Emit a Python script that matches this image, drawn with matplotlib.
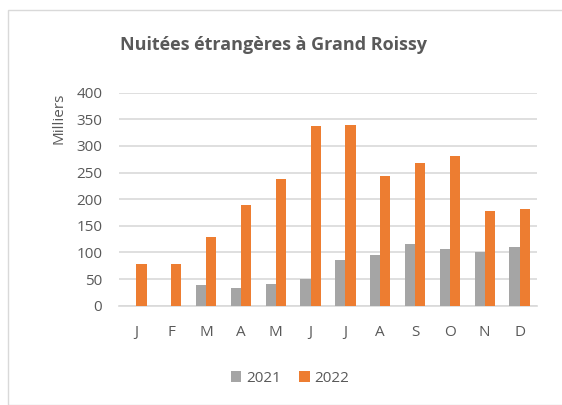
import numpy as np
import matplotlib
matplotlib.use("Agg")
import matplotlib.pyplot as plt
from matplotlib.patches import Rectangle

plt.rcParams['font.family'] = ['Open Sans', 'DejaVu Sans']

mois = ['J', 'F', 'M', 'A', 'M', 'J', 'J', 'A', 'S', 'O', 'N', 'D']
v2021 = [0, 0, 38, 34, 40, 51, 86, 96, 116, 107, 101, 111]
v2022 = [78, 78, 129, 189, 238, 338, 340, 244, 268, 281, 177, 181]

GRIS = '#a5a5a5'
ORANGE = '#ed7d31'
TXT = '#595959'

W, H = 562, 405
fig = plt.figure(figsize=(W / 100, H / 100), dpi=100)
# cadre du graphique
fig.patches.append(Rectangle((8 / W, 0), 1, 1 - 10 / H, transform=fig.transFigure,
                             fill=False, edgecolor='#d9d9d9', lw=1))

ax = fig.add_axes([119 / W, 1 - 305.7 / H, 418 / W, 213 / H])
x = np.arange(len(mois))
w = 0.29
ax.bar(x - w / 2, v2021, w, color=GRIS, label='2021', zorder=3)
ax.bar(x + w / 2, v2022, w, color=ORANGE, label='2022', zorder=3)

ax.set_xlim(-0.5, 11.5)
ax.set_ylim(0, 400)
ax.set_yticks(range(0, 401, 50))
ax.set_xticks(x)
ax.set_xticklabels(mois)
ax.yaxis.grid(True, color='#d9d9d9', lw=1.2, zorder=0)
for s in ['top', 'right', 'left']:
    ax.spines[s].set_visible(False)
ax.spines['bottom'].set_color('#d9d9d9')
ax.spines['bottom'].set_linewidth(1.2)
ax.tick_params(length=0, labelsize=11, colors=TXT)
ax.tick_params(axis='x', pad=14)
ax.tick_params(axis='y', pad=12)

ax.set_ylabel('Milliers', fontsize=11, color=TXT)
ax.yaxis.set_label_coords(-0.125, 0.88)

fig.text(273 / W, 1 - 45 / H, 'Nuitées étrangères à Grand Roissy', ha='center', va='center',
         fontsize=13, fontweight='bold', color=TXT)

leg = fig.legend(loc='center', bbox_to_anchor=(290 / W, 1 - 378 / H), ncol=2, frameon=False,
                 fontsize=11, handlelength=0.7, handleheight=0.7, columnspacing=1.2,
                 handletextpad=0.3)
for t in leg.get_texts():
    t.set_color(TXT)

fig.savefig('out.png', dpi=100)
